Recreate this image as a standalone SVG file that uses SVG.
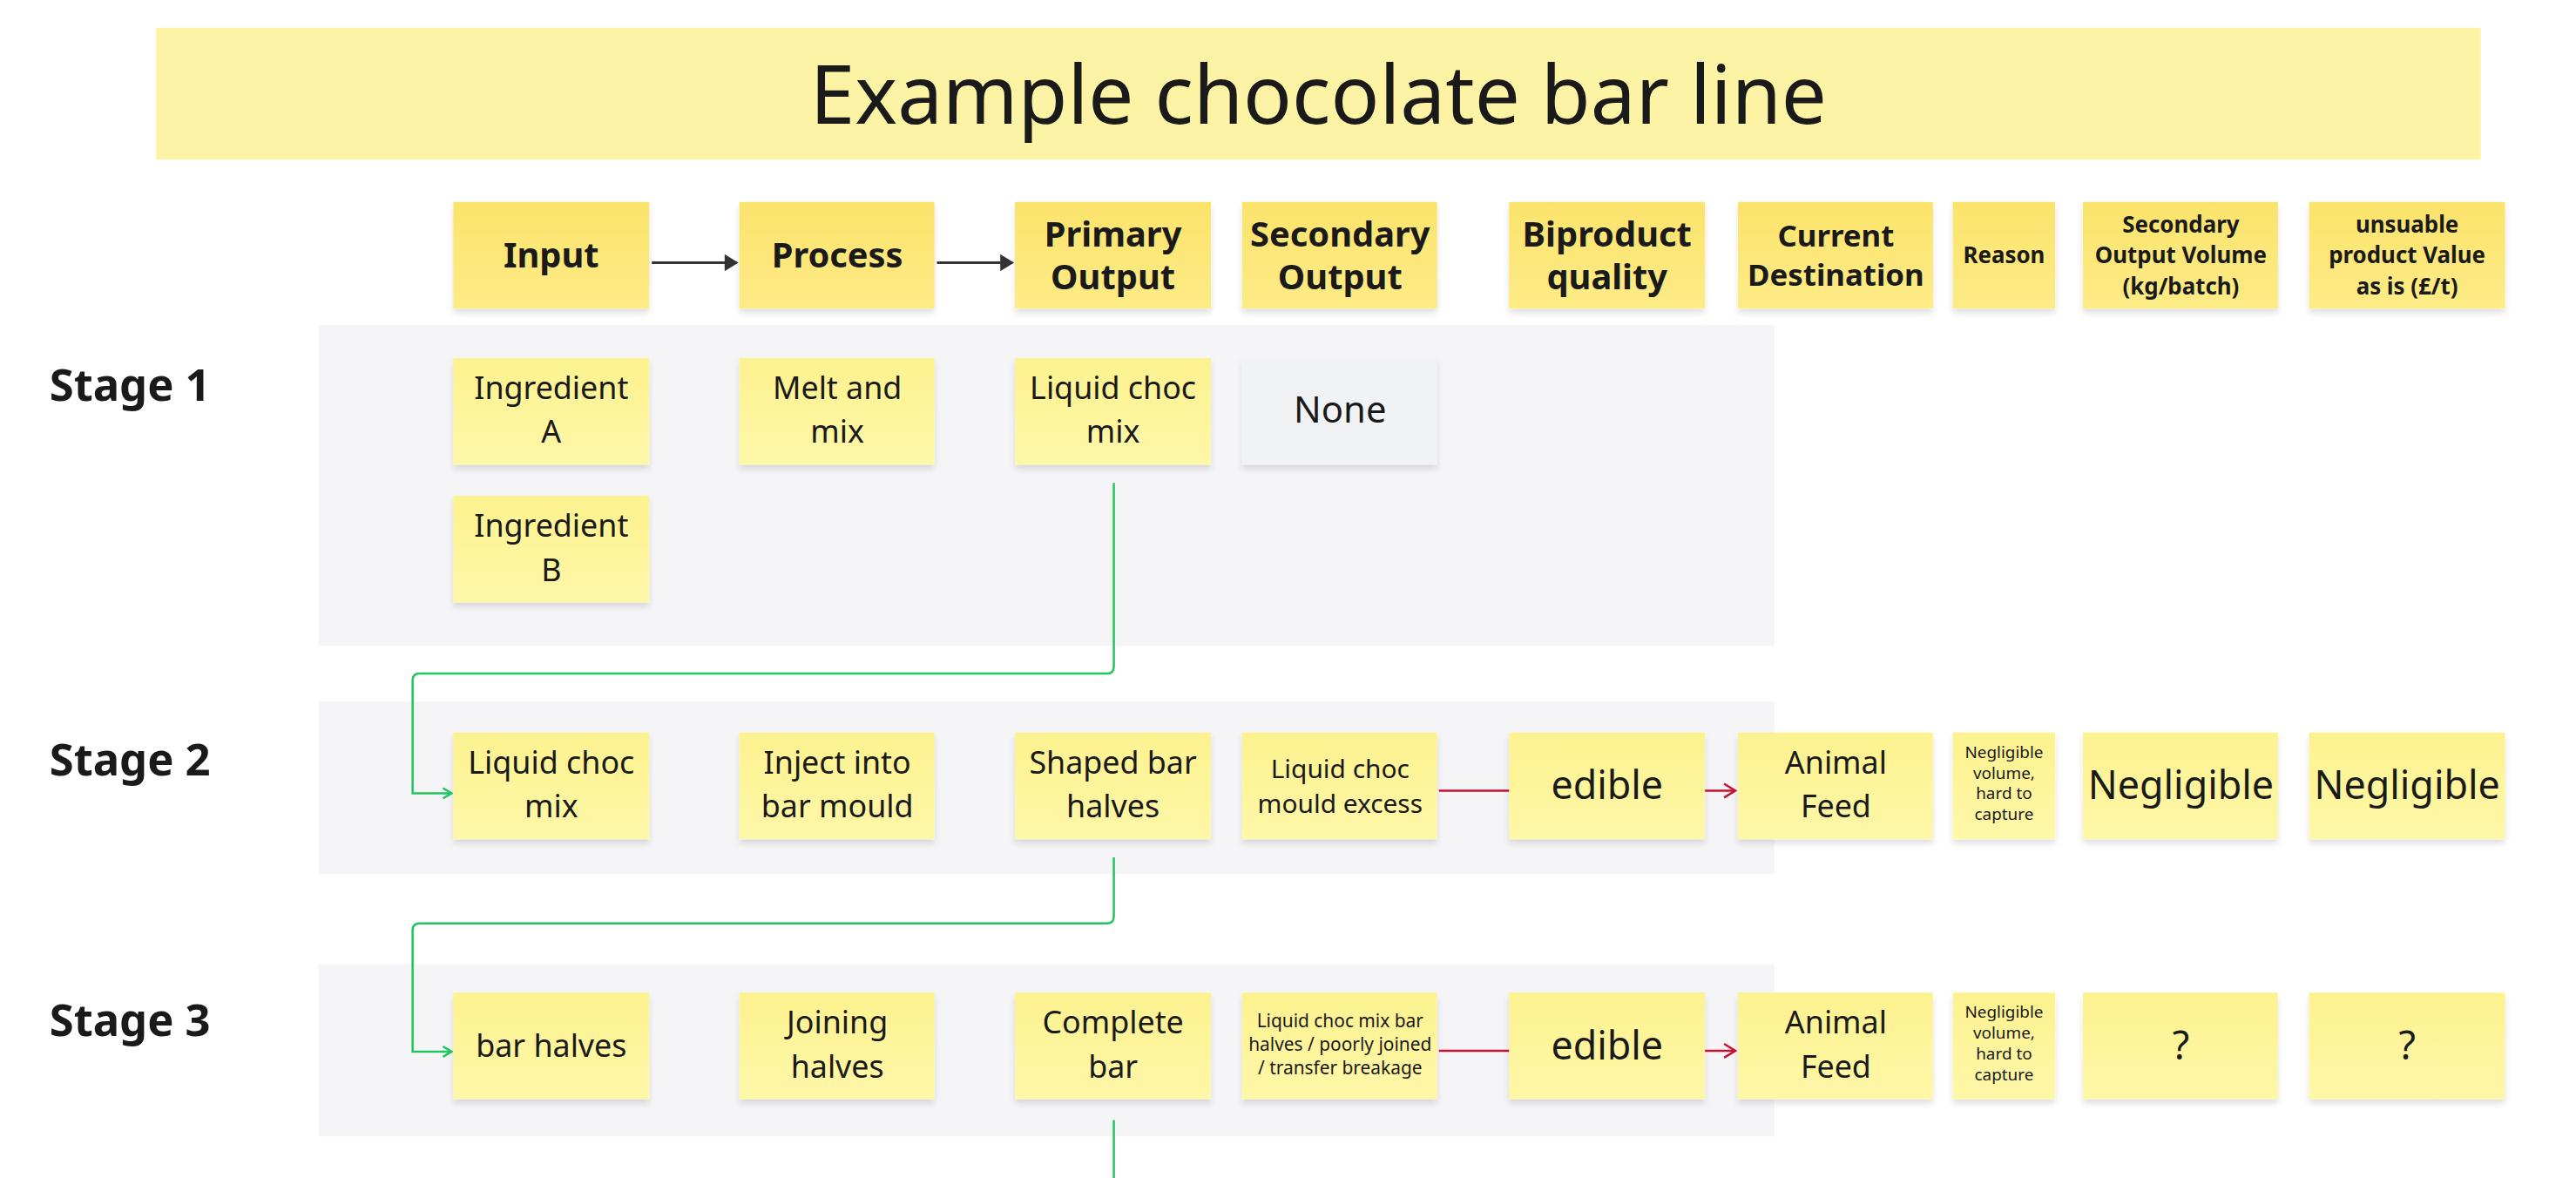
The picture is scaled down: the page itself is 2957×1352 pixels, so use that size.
<svg xmlns="http://www.w3.org/2000/svg" width="2957" height="1352" viewBox="0 0 2957 1352">
<defs>
<filter id="sh" x="-10%" y="-10%" width="120%" height="130%"><feDropShadow dx="0" dy="5" stdDeviation="4" flood-color="#000" flood-opacity="0.12"/></filter>
<linearGradient id="hg" x1="0" y1="0" x2="0" y2="1"><stop offset="0" stop-color="#fbe36b"/><stop offset="1" stop-color="#fdeb86"/></linearGradient>
<linearGradient id="bg" x1="0" y1="0" x2="0" y2="1"><stop offset="0" stop-color="#fdf28f"/><stop offset="1" stop-color="#fef7a8"/></linearGradient>
<marker id="ag" markerWidth="14" markerHeight="14" refX="12" refY="7" orient="auto" markerUnits="userSpaceOnUse"><path d="M2,1 L12,7 L2,13" fill="none" stroke="#22c55e" stroke-width="2.5"/></marker>
<marker id="ar" markerWidth="20" markerHeight="20" refX="17" refY="10" orient="auto" markerUnits="userSpaceOnUse"><path d="M4,2 L17,10 L4,18" fill="none" stroke="#c8102e" stroke-width="2.5"/></marker>
<marker id="ak" markerWidth="20" markerHeight="20" refX="17" refY="10" orient="auto" markerUnits="userSpaceOnUse"><path d="M4,2 L17,10 L4,18 Z" fill="#333" stroke="#333" stroke-width="2"/></marker>
</defs>
<style>
text{font-family:"Noto Sans","Open Sans","Liberation Sans",sans-serif;fill:#1a1a1a;text-anchor:middle}
.h{fill:url(#hg);filter:url(#sh)}
.b{fill:url(#bg);filter:url(#sh)}
.n{fill:#f1f2f4;filter:url(#sh)}
.p{fill:#f5f5f8}
.hb{font-weight:bold;font-size:40px}
.hd{font-weight:bold;font-size:35px}
.hs{font-weight:bold;font-size:26px}
.t{font-size:36px}
.l{font-size:45px}
.s{font-size:19px}
.st{font-weight:bold;font-size:51px;text-anchor:start}
</style>
<g transform="scale(0.995)">
<rect x="180" y="32" width="2682" height="152" fill="#fdf3a5"/>
<text x="1521" y="143" font-size="93">Example chocolate bar line</text>
<rect class="p" x="368" y="375" width="1679" height="370"/>
<rect class="p" x="368" y="809" width="1679" height="199"/>
<rect class="p" x="368" y="1112" width="1679" height="199"/>
<text class="st" x="57" y="462">Stage 1</text>
<text class="st" x="57" y="894">Stage 2</text>
<text class="st" x="57" y="1195">Stage 3</text>
<g id="h-input"><rect class="h" x="523" y="233" width="226" height="123"/><text class="hb" x="636" y="309">Input</text></g>
<g id="h-process"><rect class="h" x="853" y="233" width="225" height="123"/><text class="hb" x="966" y="309">Process</text></g>
<g id="h-primary"><rect class="h" x="1171" y="233" width="226" height="123"/><text class="hb" x="1284" y="284">Primary</text><text class="hb" x="1284" y="334">Output</text></g>
<g id="h-secondary"><rect class="h" x="1433" y="233" width="225" height="123"/><text class="hb" x="1546" y="284">Secondary</text><text class="hb" x="1546" y="334">Output</text></g>
<g id="h-biproduct"><rect class="h" x="1741" y="233" width="226" height="123"/><text class="hb" x="1854" y="284">Biproduct</text><text class="hb" x="1854" y="334">quality</text></g>
<g id="h-dest"><rect class="h" x="2005" y="233" width="225" height="123"/><text class="hd" x="2118" y="284">Current</text><text class="hd" x="2118" y="330">Destination</text></g>
<g id="h-reason"><rect class="h" x="2253" y="233" width="118" height="123"/><text class="hs" x="2312" y="304">Reason</text></g>
<g id="h-vol"><rect class="h" x="2403" y="233" width="225" height="123"/><text class="hs" x="2516" y="268">Secondary</text><text class="hs" x="2516" y="304">Output Volume</text><text class="hs" x="2516" y="340">(kg/batch)</text></g>
<g id="h-value"><rect class="h" x="2664" y="233" width="226" height="123"/><text class="hs" x="2777" y="268">unsuable</text><text class="hs" x="2777" y="304">product Value</text><text class="hs" x="2777" y="340">as is (£/t)</text></g>

<g id="s1-inA"><rect class="b" x="523" y="413" width="226" height="123"/><text class="t" x="636" y="460">Ingredient</text><text class="t" x="636" y="511">A</text></g>
<g id="s1-inB"><rect class="b" x="523" y="572" width="226" height="123"/><text class="t" x="636" y="619">Ingredient</text><text class="t" x="636" y="670">B</text></g>
<g id="s1-proc"><rect class="b" x="853" y="413" width="225" height="123"/><text class="t" x="966" y="460">Melt and</text><text class="t" x="966" y="511">mix</text></g>
<g id="s1-prim"><rect class="b" x="1171" y="413" width="226" height="123"/><text class="t" x="1284" y="460">Liquid choc</text><text class="t" x="1284" y="511">mix</text></g>
<g id="s1-sec"><rect class="n" x="1433" y="413" width="225" height="123"/><text x="1546" y="487" font-size="42">None</text></g>

<g id="s2-in"><rect class="b" x="523" y="845" width="226" height="123"/><text class="t" x="636" y="892">Liquid choc</text><text class="t" x="636" y="943">mix</text></g>
<g id="s2-proc"><rect class="b" x="853" y="845" width="225" height="123"/><text class="t" x="966" y="892">Inject into</text><text class="t" x="966" y="943">bar mould</text></g>
<g id="s2-prim"><rect class="b" x="1171" y="845" width="226" height="123"/><text class="t" x="1284" y="892">Shaped bar</text><text class="t" x="1284" y="943">halves</text></g>
<g id="s2-sec"><rect class="b" x="1433" y="845" width="225" height="123"/><text x="1546" y="897" font-size="30">Liquid choc</text><text x="1546" y="938" font-size="30">mould excess</text></g>
<g id="s2-bip"><rect class="b" x="1741" y="845" width="226" height="123"/><text class="l" x="1854" y="922">edible</text></g>
<g id="s2-dest"><rect class="b" x="2005" y="845" width="225" height="123"/><text class="t" x="2118" y="892">Animal</text><text class="t" x="2118" y="943">Feed</text></g>
<g id="s2-reason"><rect class="b" x="2253" y="845" width="118" height="123"/><text class="s" x="2312" y="874">Negligible</text><text class="s" x="2312" y="898">volume,</text><text class="s" x="2312" y="922">hard to</text><text class="s" x="2312" y="946">capture</text></g>
<g id="s2-vol"><rect class="b" x="2403" y="845" width="225" height="123"/><text class="l" x="2516" y="922">Negligible</text></g>
<g id="s2-val"><rect class="b" x="2664" y="845" width="226" height="123"/><text class="l" x="2777" y="922">Negligible</text></g>

<g id="s3-in"><rect class="b" x="523" y="1145" width="226" height="123"/><text class="t" x="636" y="1219">bar halves</text></g>
<g id="s3-proc"><rect class="b" x="853" y="1145" width="225" height="123"/><text class="t" x="966" y="1192">Joining</text><text class="t" x="966" y="1243">halves</text></g>
<g id="s3-prim"><rect class="b" x="1171" y="1145" width="226" height="123"/><text class="t" x="1284" y="1192">Complete</text><text class="t" x="1284" y="1243">bar</text></g>
<g id="s3-sec"><rect class="b" x="1433" y="1145" width="225" height="123"/><text x="1546" y="1185" font-size="21">Liquid choc mix bar</text><text x="1546" y="1212" font-size="21">halves / poorly joined</text><text x="1546" y="1239" font-size="21">/ transfer breakage</text></g>
<g id="s3-bip"><rect class="b" x="1741" y="1145" width="226" height="123"/><text class="l" x="1854" y="1222">edible</text></g>
<g id="s3-dest"><rect class="b" x="2005" y="1145" width="225" height="123"/><text class="t" x="2118" y="1192">Animal</text><text class="t" x="2118" y="1243">Feed</text></g>
<g id="s3-reason"><rect class="b" x="2253" y="1145" width="118" height="123"/><text class="s" x="2312" y="1174">Negligible</text><text class="s" x="2312" y="1198">volume,</text><text class="s" x="2312" y="1222">hard to</text><text class="s" x="2312" y="1246">capture</text></g>
<g id="s3-vol"><rect class="b" x="2403" y="1145" width="225" height="123"/><text class="l" x="2516" y="1222">?</text></g>
<g id="s3-val"><rect class="b" x="2664" y="1145" width="226" height="123"/><text class="l" x="2777" y="1222">?</text></g>

<g id="connectors" fill="none">
<path d="M752,303 H850" stroke="#333" stroke-width="3" marker-end="url(#ak)"/>
<path d="M1081,303 H1168" stroke="#333" stroke-width="3" marker-end="url(#ak)"/>
<path d="M1285,557 V769 Q1285,777 1277,777 H484 Q476,777 476,785 V915 H521" stroke="#22c55e" stroke-width="2.5" marker-end="url(#ag)"/>
<path d="M1285,989 V1057 Q1285,1065 1277,1065 H484 Q476,1065 476,1073 V1213 H521" stroke="#22c55e" stroke-width="2.5" marker-end="url(#ag)"/>
<path d="M1285,1292 V1360" stroke="#22c55e" stroke-width="2.5"/>
<path d="M1660,912 H1741" stroke="#c8102e" stroke-width="2.5"/>
<path d="M1967,912 H2002" stroke="#c8102e" stroke-width="2.5" marker-end="url(#ar)"/>
<path d="M1660,1212 H1741" stroke="#c8102e" stroke-width="2.5"/>
<path d="M1967,1212 H2002" stroke="#c8102e" stroke-width="2.5" marker-end="url(#ar)"/>
</g>
</g>
</svg>
